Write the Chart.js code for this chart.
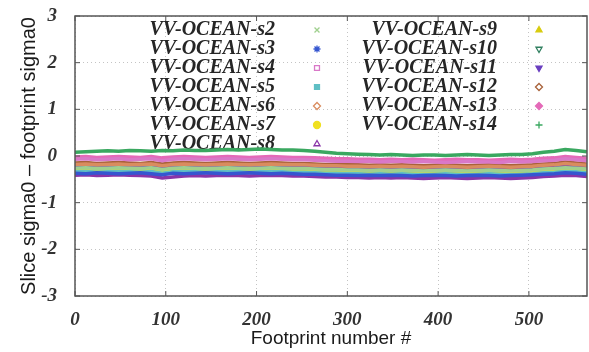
<!DOCTYPE html>
<html>
<head>
<meta charset="utf-8">
<script src="https://cdn.jsdelivr.net/npm/chart.js@4"></script>
<style>
  html, body { margin:0; padding:0; background:#fff; }
  canvas { display:block; }
</style>
</head>
<body>
<canvas id="chart" width="589" height="352"></canvas>
<script>
// Slice minus footprint sigma0, VV ocean, slices s2..s14 (values every 12 footprints)
const FOOTPRINTS = [0,12,24,36,48,60,72,84,96,108,120,132,144,156,168,180,192,204,216,228,240,252,264,276,
  288,300,312,324,336,348,360,372,384,396,408,420,432,444,456,468,480,492,504,516,528,540,552,564];
const X_TICKS = [0,100,200,300,400,500];
const Y_TICKS = [-3,-2,-1,0,1,2,3];

const S2  = [-0.26,-0.25,-0.27,-0.26,-0.25,-0.26,-0.27,-0.25,-0.29,-0.26,-0.25,-0.26,-0.27,-0.26,-0.25,-0.26,-0.27,-0.26,-0.25,-0.26,-0.27,-0.27,-0.28,-0.29,-0.29,-0.30,-0.30,-0.31,-0.30,-0.31,-0.30,-0.31,-0.32,-0.31,-0.30,-0.31,-0.32,-0.31,-0.30,-0.31,-0.32,-0.31,-0.30,-0.28,-0.27,-0.25,-0.26,-0.28];
const S3  = [-0.37,-0.38,-0.36,-0.37,-0.38,-0.37,-0.36,-0.38,-0.40,-0.37,-0.38,-0.37,-0.36,-0.37,-0.38,-0.37,-0.36,-0.37,-0.38,-0.37,-0.38,-0.39,-0.39,-0.40,-0.41,-0.41,-0.42,-0.41,-0.42,-0.41,-0.42,-0.43,-0.42,-0.41,-0.42,-0.43,-0.42,-0.41,-0.42,-0.43,-0.42,-0.41,-0.40,-0.39,-0.38,-0.36,-0.37,-0.39];
const S4  = [-0.07,-0.06,-0.08,-0.07,-0.06,-0.08,-0.07,-0.06,-0.10,-0.07,-0.06,-0.07,-0.08,-0.07,-0.06,-0.07,-0.08,-0.07,-0.06,-0.07,-0.08,-0.08,-0.09,-0.10,-0.11,-0.11,-0.12,-0.12,-0.13,-0.12,-0.12,-0.13,-0.12,-0.13,-0.14,-0.13,-0.12,-0.13,-0.13,-0.14,-0.12,-0.13,-0.12,-0.10,-0.09,-0.06,-0.08,-0.10];
const S5  = [-0.34,-0.33,-0.35,-0.34,-0.33,-0.34,-0.35,-0.33,-0.37,-0.34,-0.33,-0.34,-0.35,-0.34,-0.33,-0.34,-0.35,-0.34,-0.33,-0.34,-0.35,-0.35,-0.36,-0.37,-0.37,-0.38,-0.38,-0.39,-0.38,-0.39,-0.38,-0.39,-0.40,-0.39,-0.38,-0.39,-0.40,-0.39,-0.38,-0.39,-0.40,-0.39,-0.38,-0.36,-0.35,-0.33,-0.34,-0.36];
const S6  = [-0.18,-0.17,-0.19,-0.18,-0.17,-0.19,-0.18,-0.17,-0.21,-0.18,-0.17,-0.18,-0.19,-0.18,-0.17,-0.18,-0.19,-0.18,-0.17,-0.18,-0.19,-0.19,-0.20,-0.21,-0.21,-0.22,-0.22,-0.23,-0.22,-0.23,-0.22,-0.23,-0.24,-0.23,-0.22,-0.23,-0.24,-0.23,-0.22,-0.23,-0.24,-0.23,-0.22,-0.20,-0.19,-0.16,-0.18,-0.20];
const S7  = [-0.31,-0.30,-0.32,-0.31,-0.30,-0.31,-0.32,-0.30,-0.34,-0.31,-0.30,-0.31,-0.32,-0.31,-0.30,-0.31,-0.32,-0.31,-0.30,-0.31,-0.32,-0.32,-0.33,-0.34,-0.34,-0.35,-0.35,-0.36,-0.35,-0.36,-0.35,-0.36,-0.37,-0.36,-0.35,-0.36,-0.37,-0.36,-0.35,-0.36,-0.37,-0.36,-0.35,-0.33,-0.32,-0.30,-0.31,-0.33];
const S8  = [-0.41,-0.40,-0.42,-0.41,-0.40,-0.41,-0.42,-0.43,-0.47,-0.45,-0.43,-0.42,-0.43,-0.42,-0.41,-0.42,-0.43,-0.42,-0.41,-0.42,-0.43,-0.43,-0.44,-0.45,-0.45,-0.46,-0.46,-0.47,-0.46,-0.47,-0.46,-0.47,-0.48,-0.47,-0.46,-0.47,-0.48,-0.47,-0.46,-0.47,-0.48,-0.47,-0.46,-0.44,-0.43,-0.41,-0.42,-0.44];
const S9  = [-0.28,-0.29,-0.27,-0.28,-0.29,-0.28,-0.27,-0.29,-0.31,-0.28,-0.29,-0.28,-0.27,-0.28,-0.29,-0.28,-0.27,-0.28,-0.29,-0.28,-0.29,-0.30,-0.30,-0.31,-0.32,-0.32,-0.33,-0.32,-0.33,-0.32,-0.33,-0.34,-0.33,-0.32,-0.33,-0.34,-0.33,-0.32,-0.33,-0.34,-0.33,-0.32,-0.31,-0.30,-0.29,-0.27,-0.28,-0.30];
const S10 = [-0.29,-0.30,-0.28,-0.30,-0.29,-0.28,-0.30,-0.29,-0.32,-0.29,-0.30,-0.29,-0.28,-0.29,-0.30,-0.29,-0.28,-0.29,-0.30,-0.29,-0.30,-0.31,-0.31,-0.32,-0.33,-0.33,-0.34,-0.33,-0.34,-0.33,-0.34,-0.35,-0.34,-0.33,-0.34,-0.35,-0.34,-0.33,-0.34,-0.35,-0.34,-0.33,-0.32,-0.31,-0.30,-0.28,-0.29,-0.31];
const S11 = [-0.22,-0.23,-0.21,-0.22,-0.24,-0.22,-0.23,-0.22,-0.26,-0.23,-0.22,-0.21,-0.22,-0.23,-0.22,-0.21,-0.22,-0.23,-0.22,-0.21,-0.22,-0.23,-0.24,-0.25,-0.26,-0.26,-0.27,-0.27,-0.26,-0.27,-0.28,-0.27,-0.26,-0.27,-0.28,-0.27,-0.26,-0.27,-0.28,-0.27,-0.26,-0.27,-0.26,-0.24,-0.23,-0.21,-0.22,-0.24];
const S12 = [-0.15,-0.14,-0.16,-0.15,-0.14,-0.15,-0.16,-0.14,-0.17,-0.15,-0.14,-0.15,-0.16,-0.15,-0.14,-0.15,-0.16,-0.15,-0.14,-0.15,-0.16,-0.16,-0.17,-0.18,-0.18,-0.19,-0.19,-0.20,-0.19,-0.20,-0.19,-0.20,-0.21,-0.20,-0.19,-0.20,-0.21,-0.20,-0.19,-0.20,-0.21,-0.20,-0.19,-0.17,-0.16,-0.13,-0.15,-0.17];
const S13 = [-0.02,-0.01,-0.03,-0.02,-0.01,-0.02,-0.03,-0.01,-0.04,-0.02,-0.01,-0.02,-0.03,-0.02,-0.01,-0.02,-0.03,-0.02,-0.01,-0.02,-0.03,-0.03,-0.04,-0.05,-0.06,-0.06,-0.07,-0.07,-0.08,-0.07,-0.08,-0.07,-0.08,-0.09,-0.08,-0.07,-0.08,-0.08,-0.09,-0.08,-0.07,-0.08,-0.07,-0.05,-0.04,-0.01,-0.03,-0.05];
const S14 = [0.08,0.09,0.10,0.11,0.10,0.12,0.11,0.10,0.12,0.11,0.13,0.12,0.12,0.13,0.14,0.13,0.14,0.15,0.14,0.13,0.13,0.12,0.10,0.08,
  0.06,0.05,0.04,0.03,0.02,0.03,0.02,0.01,0.02,0.02,0.01,0.02,0.03,0.02,0.01,0.02,0.03,0.03,0.05,0.08,0.10,0.14,0.12,0.09];

const SERIES = [
  { label:"VV-OCEAN-s2",  data:S2,  color:"#9fd08e", style:"crossRot", fill:false },
  { label:"VV-OCEAN-s3",  data:S3,  color:"#3556d0", style:"star",     fill:true },
  { label:"VV-OCEAN-s4",  data:S4,  color:"#d978c8", style:"rect",     fill:false },
  { label:"VV-OCEAN-s5",  data:S5,  color:"#5fbfc4", style:"rect",     fill:true },
  { label:"VV-OCEAN-s6",  data:S6,  color:"#d98c5f", style:"rectRot",  fill:false },
  { label:"VV-OCEAN-s7",  data:S7,  color:"#f0e020", style:"circle",   fill:true },
  { label:"VV-OCEAN-s8",  data:S8,  color:"#8a35a8", style:"triangle", fill:false },
  { label:"VV-OCEAN-s9",  data:S9,  color:"#d8cc10", style:"triangle", fill:true },
  { label:"VV-OCEAN-s10", data:S10, color:"#2f7f5f", style:"triangle", fill:false, rot:180 },
  { label:"VV-OCEAN-s11", data:S11, color:"#6a3fc0", style:"triangle", fill:true,  rot:180 },
  { label:"VV-OCEAN-s12", data:S12, color:"#a8623a", style:"rectRot",  fill:false },
  { label:"VV-OCEAN-s13", data:S13, color:"#e46ab8", style:"rectRot",  fill:true },
  { label:"VV-OCEAN-s14", data:S14, color:"#3aa860", style:"cross",    fill:false }
];

const TICK_FONT = { family:'"Liberation Serif", serif', size:19, weight:'bold', style:'italic' };
const TITLE_FONT = { family:'"Liberation Sans", Arial, sans-serif', size:19 };

// legend: text right-aligned, marker to its right, two columns inside the plot
const sliceLegend = {
  id:'sliceLegend',
  beforeDatasetsDraw(chart){
    const ctx = chart.ctx;
    ctx.save();
    ctx.font = 'bold italic 20px "Liberation Serif"';
    ctx.textAlign = 'right';
    ctx.textBaseline = 'middle';
    chart.data.datasets.forEach((ds,i)=>{
      const col = i < 7 ? 0 : 1;
      const row = col ? i-7 : i;
      const y = 30 + row*19;
      ctx.fillStyle = '#262626';
      ctx.fillText(ds.label, col ? 497 : 275, y);
      const mx = col ? 539 : 317;
      ctx.fillStyle = ds.legendFill ? ds.borderColor : '#fff';
      ctx.strokeStyle = ds.borderColor;
      ctx.lineWidth = 1.3;
      Chart.helpers.drawPoint(ctx, { pointStyle: ds.pointStyle, radius: 3.5, rotation: ds.pointRotation || 0, borderWidth: 1.3 }, mx, y);
    });
    ctx.restore();
  }
};

// frame around the plot with short inward tick marks
const frame = {
  id:'frame',
  afterDraw(chart){
    const {ctx, chartArea:a, scales} = chart;
    ctx.save();
    ctx.strokeStyle = '#555';
    ctx.lineWidth = 1.5;
    ctx.strokeRect(a.left, a.top, a.right-a.left, a.bottom-a.top);
    ctx.lineWidth = 1;
    ctx.beginPath();
    X_TICKS.forEach(v=>{
      const x = scales.x.getPixelForValue(v);
      ctx.moveTo(x, a.bottom); ctx.lineTo(x, a.bottom-5);
      ctx.moveTo(x, a.top); ctx.lineTo(x, a.top+5);
    });
    Y_TICKS.forEach(v=>{
      const y = scales.y.getPixelForValue(v);
      ctx.moveTo(a.left, y); ctx.lineTo(a.left+5, y);
      ctx.moveTo(a.right, y); ctx.lineTo(a.right-5, y);
    });
    ctx.stroke();
    ctx.restore();
  }
};

new Chart(document.getElementById('chart').getContext('2d'), {
  type:'line',
  data:{
    datasets: SERIES.map(s=>({
      label: s.label,
      data: FOOTPRINTS.map((f,i)=>({x:f, y:s.data[i]})),
      borderColor: s.color,
      backgroundColor: s.color,
      borderWidth: 3.5,
      pointRadius: 0,
      pointStyle: s.style,
      pointRotation: s.rot || 0,
      legendFill: s.fill,
      tension: 0
    }))
  },
  options:{
    responsive:false,
    animation:false,
    layout:{ padding:{ top:16, right:2, left:0, bottom:0 } },
    plugins:{ legend:{ display:false }, tooltip:{ enabled:false } },
    scales:{
      x:{
        type:'linear', min:0, max:564,
        afterBuildTicks: s => { s.ticks = X_TICKS.map(v=>({value:v})); },
        afterFit: s => { s.height = 56; s.paddingLeft = 0; s.paddingRight = 0; },
        ticks:{ font:TICK_FONT, color:'#333', padding:13, maxRotation:0 },
        grid:{ color:'#c4c4c4', lineWidth:1, drawTicks:false },
        border:{ display:false, dash:[1,3] },
        title:{ display:true, text:'Footprint number #', font:TITLE_FONT, color:'#1a1a1a', padding:{ top:0, bottom:2 } }
      },
      y:{
        type:'linear', min:-3, max:3,
        afterBuildTicks: s => { s.ticks = Y_TICKS.map(v=>({value:v})); },
        afterFit: s => { s.width = 75; s.paddingTop = 0; s.paddingBottom = 0; },
        ticks:{ font:TICK_FONT, color:'#333', padding:18 },
        grid:{ color:'#c4c4c4', lineWidth:1, drawTicks:false },
        border:{ display:false, dash:[1,3] },
        title:{ display:true, text:'Slice sigma0 \u2013 footprint sigma0', font:{ family:'"Liberation Sans", Arial, sans-serif', size:20 }, color:'#1a1a1a', padding:{ top:17, bottom:0 } }
      }
    }
  },
  plugins:[sliceLegend, frame]
});
</script>
</body>
</html>
